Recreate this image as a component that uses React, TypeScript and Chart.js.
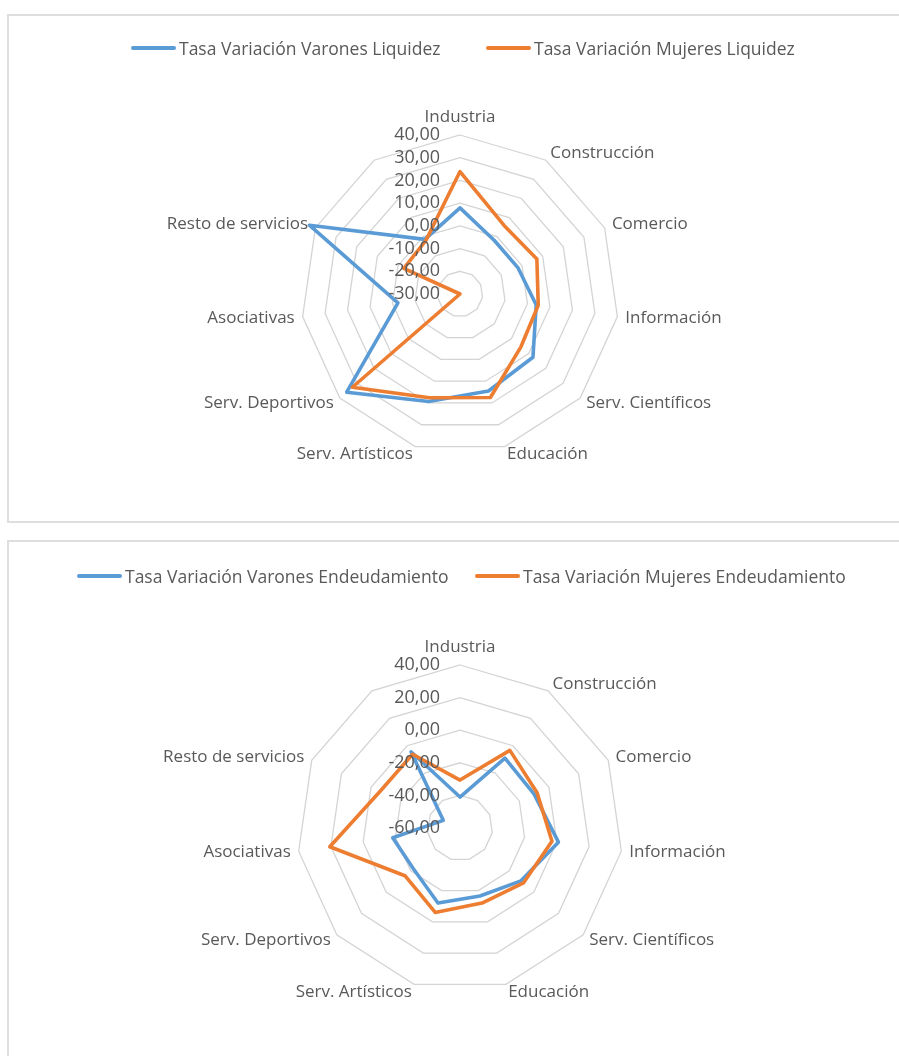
import React, { useEffect, useRef } from "react";
import { Chart, registerables } from "chart.js";

Chart.register(...registerables);

// ---- Data ----
const categories = [
  "Industria",
  "Construcción",
  "Comercio",
  "Información",
  "Serv. Científicos",
  "Educación",
  "Serv. Artísticos",
  "Serv. Deportivos",
  "Asociativas",
  "Resto de servicios",
  "",
];

const liquidezVarones = [7.9, -2, -2, 3.9, 12.5, 14.5, 19.3, 36, -2.4, 42.9, -1.4];
const liquidezMujeres = [23.9, 5.9, 7.2, 4.8, 5.5, 17.5, 17.6, 32.7, -30, -2.8, -2.1];

const endeudVarones = [-41, -9, -10, 1, -10.5, -16.5, -12, -22, -18.3, -48.7, -4.4];
const endeudMujeres = [-30.6, -3.4, -8, -3, -8.5, -12, -6, -15.3, 20.7, -6, -6.2];

const liquidezSeries = ["Tasa Variación Varones Liquidez", "Tasa Variación Mujeres Liquidez"];
const endeudSeries = ["Tasa Variación Varones Endeudamiento", "Tasa Variación Mujeres Endeudamiento"];

const liquidezScale = { min: -30, max: 40, step: 10 };
const endeudScale = { min: -60, max: 40, step: 20 };

const BLUE = "#5B9BD5";
const ORANGE = "#ED7D31";
const TEXT = "#595959";
const GRID = "#D4D4D4";
const FONT = '"Open Sans", "Noto Sans", sans-serif';

const fmt = (v: number) => v.toFixed(2).replace(".", ",");

const excelLabels = {
  id: "excelLabels",
  afterDatasetsDraw(chart: any) {
    const scale = chart.scales.r;
    const ctx = chart.ctx;
    ctx.save();
    ctx.fillStyle = TEXT;
    // value axis labels
    ctx.font = `18px ${FONT}`;
    ctx.textAlign = "right";
    ctx.textBaseline = "middle";
    scale.ticks.forEach((t: any) => {
      const d = scale.getDistanceFromCenterForValue(t.value);
      ctx.fillText(fmt(t.value), scale.xCenter - 20, scale.yCenter - d);
    });
    // category labels
    ctx.font = `17px ${FONT}`;
    const labels: string[] = chart.data.labels;
    const n = labels.length;
    labels.forEach((lab, i) => {
      if (!lab) return;
      const deg = (i * 360) / n;
      const p = scale.getPointPosition(i, scale.drawingArea + 8);
      if (deg === 0) {
        ctx.textAlign = "center";
        ctx.textBaseline = "alphabetic";
        ctx.fillText(lab, p.x, p.y - 5);
      } else if (deg === 180) {
        ctx.textAlign = "center";
        ctx.textBaseline = "top";
        ctx.fillText(lab, p.x, p.y + 2);
      } else {
        ctx.textAlign = deg < 180 ? "left" : "right";
        ctx.textBaseline = "middle";
        ctx.fillText(lab, p.x, p.y);
      }
    });
    ctx.restore();
  },
};

type RadarProps = {
  top: number;
  width: number;
  height: number;
  cx: number;
  cy: number;
  radius: number;
  names: string[];
  a: number[];
  b: number[];
  range: { min: number; max: number; step: number };
};

function RadarChart(props: RadarProps) {
  const ref = useRef<HTMLCanvasElement>(null);
  useEffect(() => {
    const { width, height, cx, cy, radius, names, a, b, range } = props;
    const padLeft = cx - radius;
    const padTop = cy - radius;
    const padRight = width - cx - radius;
    const padBottom = height - cy - radius;
    const ds = (label: string, data: number[], color: string, order: number) => ({
      label,
      data,
      borderColor: color,
      backgroundColor: color,
      borderWidth: 3.6,
      pointRadius: 0,
      pointHoverRadius: 0,
      fill: false,
      tension: 0,
      borderJoinStyle: "round" as const,
      borderCapStyle: "round" as const,
      order,
      clip: false as const,
    });
    const chart = new Chart(ref.current as HTMLCanvasElement, {
      type: "radar",
      data: {
        labels: categories,
        datasets: [ds(names[0], a, BLUE, 1), ds(names[1], b, ORANGE, 0)],
      },
      options: {
        responsive: false,
        animation: false,
        devicePixelRatio: 1,
        layout: { padding: { left: padLeft, right: padRight, top: padTop, bottom: padBottom } },
        plugins: { legend: { display: false }, tooltip: { enabled: false } },
        scales: {
          r: {
            min: range.min,
            max: range.max,
            ticks: { display: false, stepSize: range.step },
            pointLabels: { display: false },
            angleLines: { display: false },
            grid: { color: GRID, lineWidth: 1.3 },
          },
        },
      },
      plugins: [excelLabels],
    });
    return () => chart.destroy();
  }, []);
  return (
    <canvas
      ref={ref}
      width={props.width}
      height={props.height}
      style={{ position: "absolute", left: 0, top: props.top, width: props.width, height: props.height }}
    />
  );
}

function LegendItem({ x, y, color, text }: { x: number; y: number; color: string; text: string }) {
  return (
    <div
      style={{
        position: "absolute",
        left: x,
        top: y - 12,
        height: 24,
        display: "flex",
        alignItems: "center",
        whiteSpace: "nowrap",
        fontFamily: FONT,
        fontSize: 17.5,
        color: TEXT,
      }}
    >
      <span style={{ display: "inline-block", width: 45, height: 4, borderRadius: 2, background: color, marginRight: 3 }} />
      <span>{text}</span>
    </div>
  );
}

export default function App() {
  return (
    <div
      style={{
        position: "absolute",
        left: 0,
        top: 0,
        width: 899,
        height: 1056,
        overflow: "hidden",
        background: "#fff",
      }}
    >
      <div style={{ position: "absolute", left: 7, top: 14, width: 930, height: 505, border: "2px solid #dedede" }} />
      <div style={{ position: "absolute", left: 7, top: 540, width: 930, height: 600, border: "2px solid #dedede" }} />
      <RadarChart
        top={0}
        width={899}
        height={522}
        cx={460}
        cy={294}
        radius={159}
        names={liquidezSeries}
        a={liquidezVarones}
        b={liquidezMujeres}
        range={liquidezScale}
      />
      <RadarChart
        top={530}
        width={899}
        height={526}
        cx={460}
        cy={298}
        radius={163}
        names={endeudSeries}
        a={endeudVarones}
        b={endeudMujeres}
        range={endeudScale}
      />
      <LegendItem x={131} y={48} color={BLUE} text={liquidezSeries[0]} />
      <LegendItem x={486} y={48} color={ORANGE} text={liquidezSeries[1]} />
      <LegendItem x={77} y={576} color={BLUE} text={endeudSeries[0]} />
      <LegendItem x={475} y={576} color={ORANGE} text={endeudSeries[1]} />
    </div>
  );
}
